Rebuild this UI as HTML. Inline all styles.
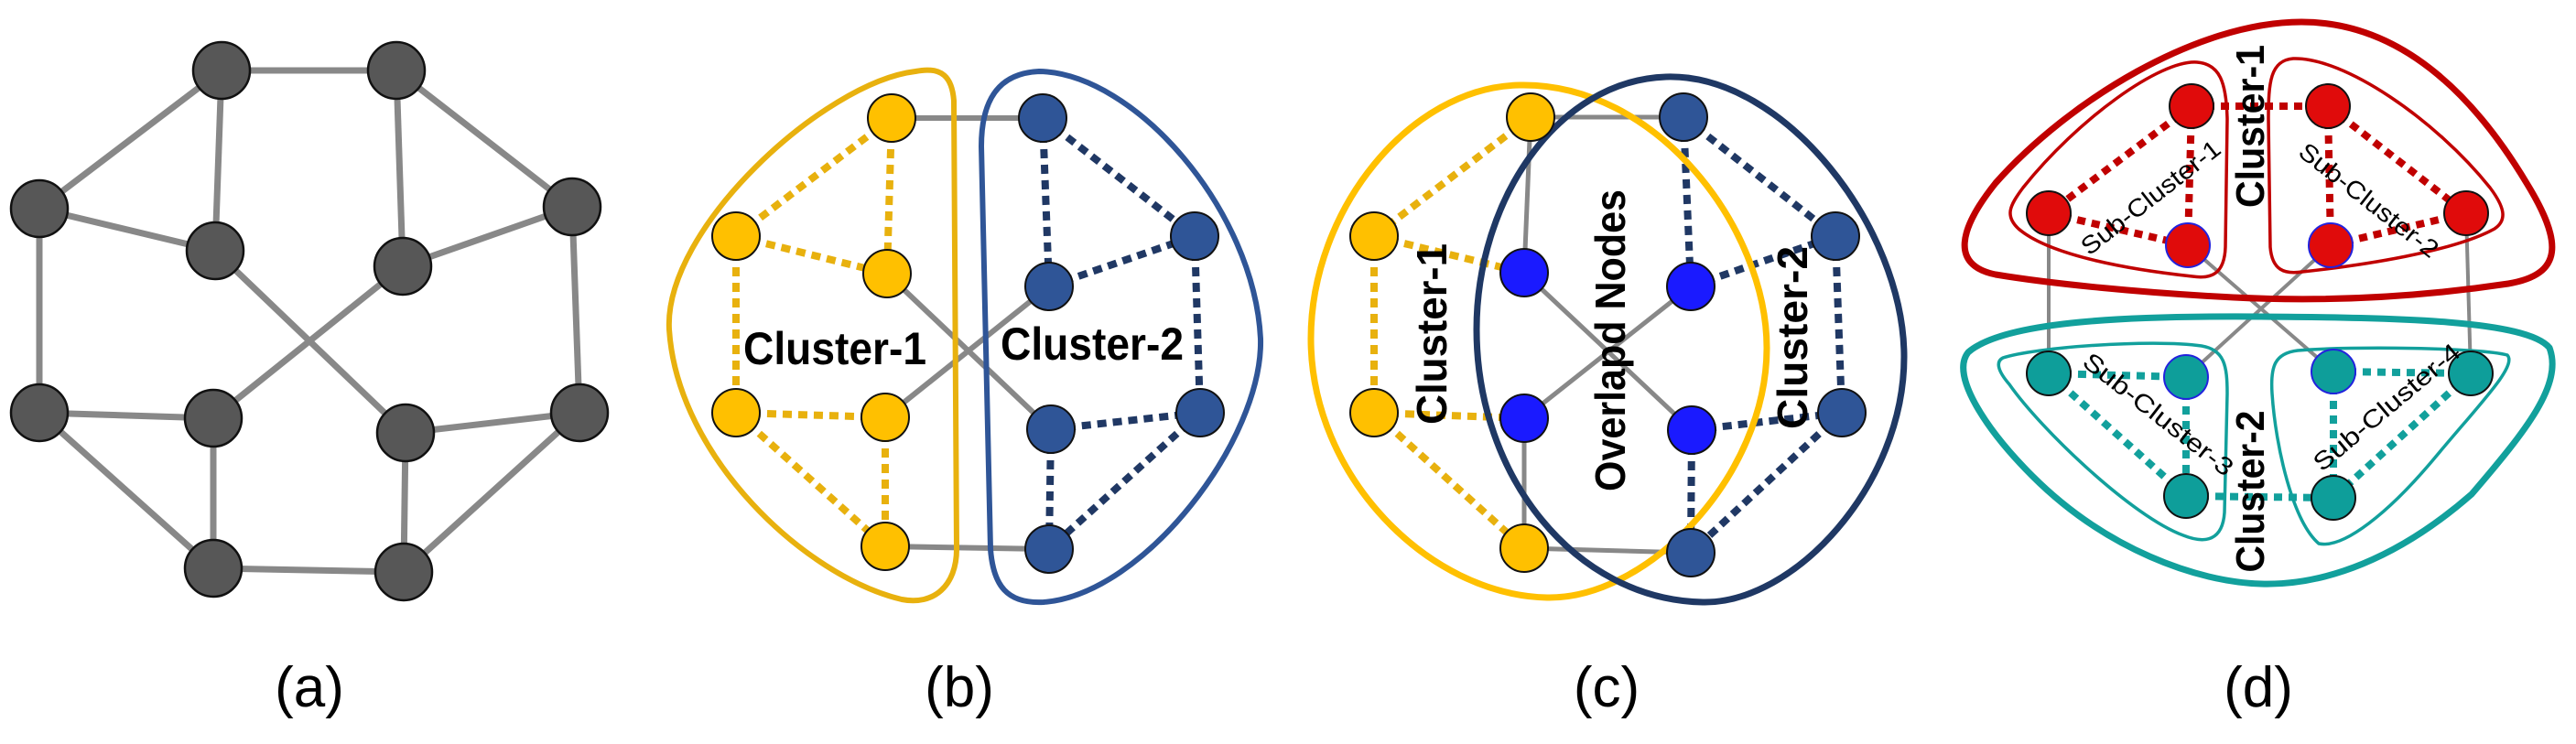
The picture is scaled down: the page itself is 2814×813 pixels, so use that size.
<!DOCTYPE html>
<html><head><meta charset="utf-8"><style>
html,body{margin:0;padding:0;background:#fff;}
svg{display:block;}
text{font-family:"Liberation Sans",sans-serif;}
</style></head><body>
<svg width="2814" height="813" viewBox="0 0 2814 813" xmlns="http://www.w3.org/2000/svg">
<!-- (a) -->
<g stroke="#888" stroke-width="7">
<line x1="242" y1="77" x2="433" y2="77"/><line x1="242" y1="77" x2="43" y2="228"/><line x1="242" y1="77" x2="235" y2="274"/>
<line x1="433" y1="77" x2="440" y2="291"/><line x1="433" y1="77" x2="625" y2="226"/><line x1="43" y1="228" x2="235" y2="274"/>
<line x1="43" y1="228" x2="43" y2="451"/><line x1="625" y1="226" x2="440" y2="291"/><line x1="625" y1="226" x2="633" y2="451"/>
<line x1="235" y1="274" x2="443" y2="473"/><line x1="440" y1="291" x2="233" y2="457"/><line x1="43" y1="451" x2="233" y2="457"/>
<line x1="43" y1="451" x2="233" y2="621"/><line x1="233" y1="457" x2="233" y2="621"/><line x1="443" y1="473" x2="633" y2="451"/>
<line x1="443" y1="473" x2="441" y2="625"/><line x1="633" y1="451" x2="441" y2="625"/><line x1="233" y1="621" x2="441" y2="625"/>
</g>
<g fill="#575757" stroke="#111" stroke-width="2.5">
<circle cx="242" cy="77" r="31"/><circle cx="433" cy="77" r="31"/><circle cx="43" cy="228" r="31"/><circle cx="625" cy="226" r="31"/>
<circle cx="235" cy="274" r="31"/><circle cx="440" cy="291" r="31"/><circle cx="43" cy="451" r="31"/><circle cx="233" cy="457" r="31"/>
<circle cx="443" cy="473" r="31"/><circle cx="633" cy="451" r="31"/><circle cx="233" cy="621" r="31"/><circle cx="441" cy="625" r="31"/>
</g>
<text x="338" y="772" font-size="62" text-anchor="middle">(a)</text>

<!-- (b) -->
<g stroke="#888" stroke-width="6">
<line x1="974" y1="129" x2="1139" y2="129"/><line x1="967" y1="597" x2="1146" y2="600"/>
<line x1="969" y1="299" x2="1148" y2="469"/><line x1="967" y1="456" x2="1146" y2="313"/>
</g>
<g stroke="#e8b10e" stroke-width="8" stroke-dasharray="10 7">
<line x1="974" y1="129" x2="804" y2="258"/><line x1="974" y1="129" x2="969" y2="299"/><line x1="804" y1="258" x2="969" y2="299"/>
<line x1="804" y1="258" x2="804" y2="451"/><line x1="804" y1="451" x2="967" y2="456"/><line x1="804" y1="451" x2="967" y2="597"/>
<line x1="967" y1="456" x2="967" y2="597"/>
</g>
<g stroke="#203864" stroke-width="8" stroke-dasharray="10 7">
<line x1="1139" y1="129" x2="1305" y2="258"/><line x1="1139" y1="129" x2="1146" y2="313"/><line x1="1146" y1="313" x2="1305" y2="258"/>
<line x1="1305" y1="258" x2="1311" y2="451"/><line x1="1148" y1="469" x2="1311" y2="451"/><line x1="1148" y1="469" x2="1146" y2="600"/>
<line x1="1311" y1="451" x2="1146" y2="600"/>
</g>
<path d="M1000,78 C1030,72 1040,85 1042,110 L1045,600 C1045,640 1020,662 985,655 C880,630 740,500 731,360 C725,250 900,90 1000,78 Z" fill="none" stroke="#e8b10e" stroke-width="6"/>
<path d="M1135,78 C1240,80 1370,230 1377,370 C1380,480 1250,650 1140,658 C1100,660 1085,640 1082,600 L1072,160 C1072,110 1090,80 1135,78 Z" fill="none" stroke="#2f5597" stroke-width="6"/>
<g fill="#ffc000" stroke="#111" stroke-width="2">
<circle cx="974" cy="129" r="26"/><circle cx="804" cy="258" r="26"/><circle cx="969" cy="299" r="26"/>
<circle cx="804" cy="451" r="26"/><circle cx="967" cy="456" r="26"/><circle cx="967" cy="597" r="26"/>
</g>
<g fill="#2f5597" stroke="#111" stroke-width="2">
<circle cx="1139" cy="129" r="26"/><circle cx="1305" cy="258" r="26"/><circle cx="1146" cy="313" r="26"/>
<circle cx="1148" cy="469" r="26"/><circle cx="1311" cy="451" r="26"/><circle cx="1146" cy="600" r="26"/>
</g>
<text x="912" y="398" font-size="50" font-weight="bold" text-anchor="middle" textLength="200" lengthAdjust="spacingAndGlyphs">Cluster-1</text>
<text x="1193" y="393" font-size="50" font-weight="bold" text-anchor="middle" textLength="200" lengthAdjust="spacingAndGlyphs">Cluster-2</text>
<text x="1048" y="772" font-size="62" text-anchor="middle">(b)</text>

<!-- (c) -->
<g stroke="#888" stroke-width="5">
<line x1="1672" y1="128" x2="1839" y2="128"/><line x1="1672" y1="128" x2="1665" y2="298"/>
<line x1="1665" y1="298" x2="1848" y2="470"/><line x1="1847" y1="313" x2="1665" y2="457"/>
<line x1="1665" y1="457" x2="1665" y2="599"/><line x1="1665" y1="599" x2="1847" y2="604"/>
</g>
<g stroke="#e8b10e" stroke-width="8" stroke-dasharray="10 7">
<line x1="1672" y1="128" x2="1501" y2="258"/><line x1="1501" y1="258" x2="1665" y2="298"/><line x1="1501" y1="258" x2="1501" y2="451"/>
<line x1="1501" y1="451" x2="1665" y2="457"/><line x1="1501" y1="451" x2="1665" y2="599"/>
</g>
<g stroke="#203864" stroke-width="8" stroke-dasharray="10 7">
<line x1="1839" y1="128" x2="1847" y2="313"/><line x1="1839" y1="128" x2="2005" y2="258"/><line x1="1847" y1="313" x2="2005" y2="258"/>
<line x1="2005" y1="258" x2="2012" y2="451"/><line x1="1848" y1="470" x2="2012" y2="451"/><line x1="1848" y1="470" x2="1847" y2="604"/>
<line x1="2012" y1="451" x2="1847" y2="604"/>
</g>
<path d="M1660,93 C1810,90 1930,250 1930,380 C1930,520 1800,655 1690,653 C1560,650 1432,520 1432,370 C1432,230 1540,95 1660,93 Z" fill="none" stroke="#ffc000" stroke-width="7"/>
<path d="M1820,84 C1950,80 2080,250 2080,390 C2080,530 1960,660 1860,658 C1720,655 1613,520 1613,360 C1613,220 1700,88 1820,84 Z" fill="none" stroke="#1f3864" stroke-width="7"/>
<g fill="#ffc000" stroke="#111" stroke-width="2">
<circle cx="1672" cy="128" r="26"/><circle cx="1501" cy="258" r="26"/><circle cx="1501" cy="451" r="26"/><circle cx="1665" cy="599" r="26"/>
</g>
<g fill="#1a1aff" stroke="#111" stroke-width="2">
<circle cx="1665" cy="298" r="26"/><circle cx="1847" cy="313" r="26"/><circle cx="1665" cy="457" r="26"/><circle cx="1848" cy="470" r="26"/>
</g>
<g fill="#2f5597" stroke="#111" stroke-width="2">
<circle cx="1839" cy="128" r="26"/><circle cx="2005" cy="258" r="26"/><circle cx="2012" cy="451" r="26"/><circle cx="1847" cy="604" r="26"/>
</g>
<g font-family="DejaVu Sans" font-weight="bold" font-size="46" text-anchor="middle">
<text transform="translate(1580,365) rotate(-90)" textLength="198" lengthAdjust="spacingAndGlyphs">Cluster-1</text>
<text transform="translate(1775,372) rotate(-90)" textLength="330" lengthAdjust="spacingAndGlyphs">Overlapd Nodes</text>
<text transform="translate(1974,369) rotate(-90)" textLength="200" lengthAdjust="spacingAndGlyphs">Cluster-2</text>
</g>
<text x="1755" y="772" font-size="62" text-anchor="middle">(c)</text>

<!-- (d) -->
<g stroke="#888" stroke-width="4">
<line x1="2238" y1="233" x2="2238" y2="408"/><line x1="2694" y1="233" x2="2699" y2="408"/>
<line x1="2390" y1="268" x2="2549" y2="406"/><line x1="2546" y1="268" x2="2388" y2="412"/>
</g>
<g stroke="#c00000" stroke-width="8" stroke-dasharray="9 7">
<line x1="2394" y1="116" x2="2543" y2="116"/><line x1="2394" y1="116" x2="2238" y2="233"/><line x1="2394" y1="116" x2="2390" y2="268"/>
<line x1="2238" y1="233" x2="2390" y2="268"/><line x1="2543" y1="116" x2="2546" y2="268"/><line x1="2543" y1="116" x2="2694" y2="233"/>
<line x1="2546" y1="268" x2="2694" y2="233"/>
</g>
<g stroke="#12a09c" stroke-width="8" stroke-dasharray="9 7">
<line x1="2238" y1="408" x2="2388" y2="412"/><line x1="2238" y1="408" x2="2388" y2="542"/><line x1="2388" y1="412" x2="2388" y2="542"/>
<line x1="2388" y1="542" x2="2549" y2="544"/><line x1="2549" y1="406" x2="2699" y2="408"/><line x1="2549" y1="406" x2="2549" y2="544"/>
<line x1="2699" y1="408" x2="2549" y2="544"/>
</g>
<path d="M2514,24 C2620,24 2700,100 2760,200 C2800,265 2800,300 2740,310 C2640,325 2540,330 2440,325 C2340,320 2240,310 2180,300 C2130,290 2140,250 2180,200 C2260,110 2400,24 2514,24 Z" fill="none" stroke="#c00000" stroke-width="7"/>
<path d="M2400,68 C2425,70 2432,90 2433,130 L2431,270 C2430,300 2415,305 2395,302 C2330,295 2240,280 2205,250 C2190,236 2195,225 2210,205 C2270,130 2360,65 2400,68 Z" fill="none" stroke="#c00000" stroke-width="3.5"/>
<path d="M2505,64 C2480,66 2478,90 2478,130 L2480,270 C2482,295 2495,300 2515,297 C2580,290 2680,275 2725,250 C2740,240 2735,225 2720,205 C2660,130 2560,62 2505,64 Z" fill="none" stroke="#c00000" stroke-width="3.5"/>
<path d="M2150,385 C2190,350 2330,345 2470,346 C2620,347 2760,350 2785,380 C2800,420 2760,470 2700,540 C2620,610 2540,640 2470,638 C2400,636 2300,600 2220,520 C2170,470 2130,410 2150,385 Z" fill="none" stroke="#12a09c" stroke-width="7"/>
<path d="M2188,391 C2220,380 2350,370 2405,378 C2430,382 2433,400 2433,430 L2430,560 C2428,590 2410,595 2385,585 C2330,565 2230,470 2195,420 C2182,405 2180,395 2188,391 Z" fill="none" stroke="#12a09c" stroke-width="3.5"/>
<path d="M2739,388 C2710,380 2570,378 2510,383 C2485,386 2480,400 2482,430 C2486,490 2505,570 2533,594 C2560,600 2610,560 2660,500 C2710,440 2750,400 2739,388 Z" fill="none" stroke="#12a09c" stroke-width="3.5"/>
<g fill="#e00b0b" stroke="#111" stroke-width="2">
<circle cx="2394" cy="116" r="24"/><circle cx="2543" cy="116" r="24"/><circle cx="2238" cy="233" r="24"/>
<circle cx="2694" cy="233" r="24"/>
</g>
<g fill="#e00b0b" stroke="#2222dd" stroke-width="2">
<circle cx="2390" cy="268" r="24"/><circle cx="2546" cy="268" r="24"/>
</g>
<g fill="#0e9e9a" stroke="#111" stroke-width="2">
<circle cx="2238" cy="408" r="24"/><circle cx="2699" cy="408" r="24"/><circle cx="2388" cy="542" r="24"/><circle cx="2549" cy="544" r="24"/>
</g>
<g fill="#0e9e9a" stroke="#2222dd" stroke-width="2">
<circle cx="2388" cy="412" r="24"/><circle cx="2549" cy="406" r="24"/>
</g>
<g font-family="DejaVu Sans" font-weight="bold" font-size="44" text-anchor="middle">
<text transform="translate(2473,138) rotate(-90)" textLength="178" lengthAdjust="spacingAndGlyphs">Cluster-1</text>
<text transform="translate(2473,537) rotate(-90)" textLength="177" lengthAdjust="spacingAndGlyphs">Cluster-2</text>
</g>
<g font-family="DejaVu Sans" font-size="27" text-anchor="middle">
<text transform="translate(2355,223) rotate(-38)" textLength="185" lengthAdjust="spacingAndGlyphs">Sub-Cluster-1</text>
<text transform="translate(2582,226) rotate(38)" textLength="185" lengthAdjust="spacingAndGlyphs">Sub-Cluster-2</text>
<text transform="translate(2352,460) rotate(38)" textLength="200" lengthAdjust="spacingAndGlyphs">Sub-Cluster-3</text>
<text transform="translate(2613,452) rotate(-40)" textLength="200" lengthAdjust="spacingAndGlyphs">Sub-Cluster-4</text>
</g>
<text x="2467" y="772" font-size="62" text-anchor="middle">(d)</text>
</svg>
</body></html>
